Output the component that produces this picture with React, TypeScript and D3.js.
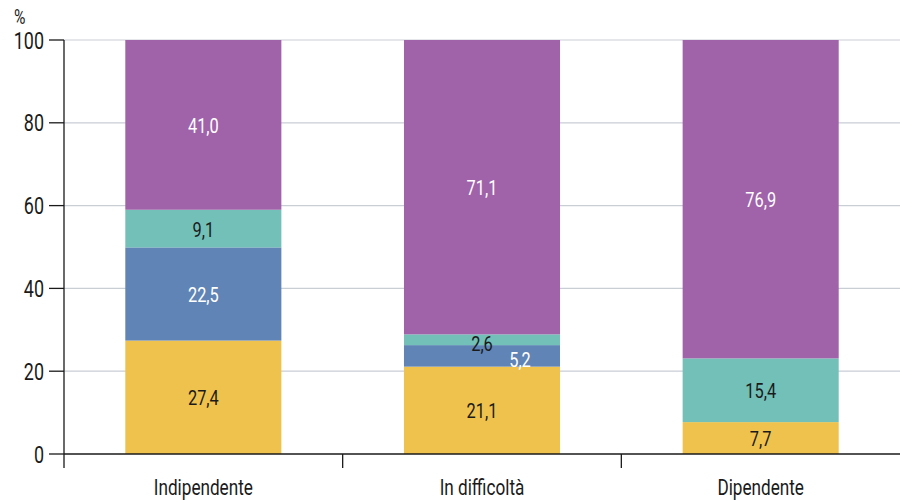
import React from "react";
import * as d3 from "d3";

const categories = ["Indipendente", "In difficoltà", "Dipendente"];
const seriesKeys = ["giallo", "blu", "verde", "viola"];
const yellowValues = [27.4, 21.1, 7.7];
const blueValues = [22.5, 5.2, 0];
const tealValues = [9.1, 2.6, 15.4];
const purpleValues = [41.0, 71.1, 76.9];
const yTicks = [0, 20, 40, 60, 80, 100];

const colors: Record<string, string> = {
  giallo: "#efc24d",
  blu: "#5f84b5",
  verde: "#72c0b8",
  viola: "#a062a8",
};
const textColors: Record<string, string> = {
  giallo: "#1a1a1a",
  blu: "#ffffff",
  verde: "#1a1a1a",
  viola: "#ffffff",
};
// manual label nudges for thin segments (px)
const labelNudge: Record<string, [number, number]> = {
  "In difficoltà|verde": [0, 3],
  "In difficoltà|blu": [38, 3],
};

const W = 900;
const H = 500;
const FONT = "Roboto, 'DejaVu Sans Condensed', sans-serif";
const SX = 0.78;

function T(props: {
  x: number;
  y: number;
  size: number;
  anchor?: "start" | "middle" | "end";
  fill?: string;
  dy?: string;
  children: React.ReactNode;
}) {
  return (
    <text
      transform={`translate(${props.x},${props.y}) scale(${SX},1)`}
      dy={props.dy}
      textAnchor={props.anchor || "start"}
      fontSize={props.size}
      fill={props.fill || "#1a1a1a"}
    >
      {props.children}
    </text>
  );
}

export default function App() {
  const rows = categories.map((c, i) => ({
    cat: c,
    giallo: yellowValues[i],
    blu: blueValues[i],
    verde: tealValues[i],
    viola: purpleValues[i],
  }));
  const stack = d3.stack<any>().keys(seriesKeys)(rows);

  const x = d3.scaleBand().domain(categories).range([64, 900]).paddingInner(0.44).paddingOuter(0.22);
  const y = d3.scaleLinear().domain([0, 100]).range([454, 40]);
  const step = x.step();
  const fmt = (v: number) => v.toFixed(1).replace(".", ",");

  return (
    <svg width={W} height={H} style={{ position: "absolute", left: 0, top: 0, fontFamily: FONT }}>
      <rect width={W} height={H} fill="#fff" />
      {yTicks.map((t) => (
        <g key={t}>
          {t > 0 && <line x1={64} x2={900} y1={y(t)} y2={y(t)} stroke="#c9cdd4" strokeWidth={1.2} />}
          <line x1={49} x2={64} y1={y(t)} y2={y(t)} stroke="#1a1a1a" strokeWidth={1.3} />
          <T x={44} y={y(t)} dy="0.37em" anchor="end" size={23}>
            {t}
          </T>
        </g>
      ))}
      <T x={14} y={24} size={20}>%</T>
      {stack.map((layer) =>
        layer.map((d: any, i: number) => {
          const v = d[1] - d[0];
          if (v <= 0) return null;
          const cat = categories[i];
          return (
            <rect
              key={layer.key + cat}
              x={x(cat)}
              width={x.bandwidth()}
              y={y(d[1])}
              height={y(d[0]) - y(d[1])}
              fill={colors[layer.key]}
            />
          );
        })
      )}
      {stack.map((layer) =>
        layer.map((d: any, i: number) => {
          const v = d[1] - d[0];
          if (v <= 0) return null;
          const cat = categories[i];
          const nudge = labelNudge[cat + "|" + layer.key] || [0, 0];
          return (
            <T
              key={"t" + layer.key + cat}
              x={(x(cat) as number) + x.bandwidth() / 2 + nudge[0]}
              y={(y(d[0]) + y(d[1])) / 2 + nudge[1]}
              dy="0.38em"
              anchor="middle"
              size={21}
              fill={textColors[layer.key]}
            >
              {fmt(v)}
            </T>
          );
        })
      )}
      <line x1={64} x2={900} y1={454} y2={454} stroke="#1a1a1a" strokeWidth={1.3} />
      <line x1={64} x2={64} y1={40} y2={468} stroke="#1a1a1a" strokeWidth={1.3} />
      {categories.map((c, i) =>
        i > 0 ? (
          <line key={"tk" + c} x1={64 + step * i} x2={64 + step * i} y1={454} y2={468} stroke="#1a1a1a" strokeWidth={1.3} />
        ) : null
      )}
      {categories.map((c) => (
        <T key={"lb" + c} x={(x(c) as number) + x.bandwidth() / 2} y={495} anchor="middle" size={22}>
          {c}
        </T>
      ))}
    </svg>
  );
}
